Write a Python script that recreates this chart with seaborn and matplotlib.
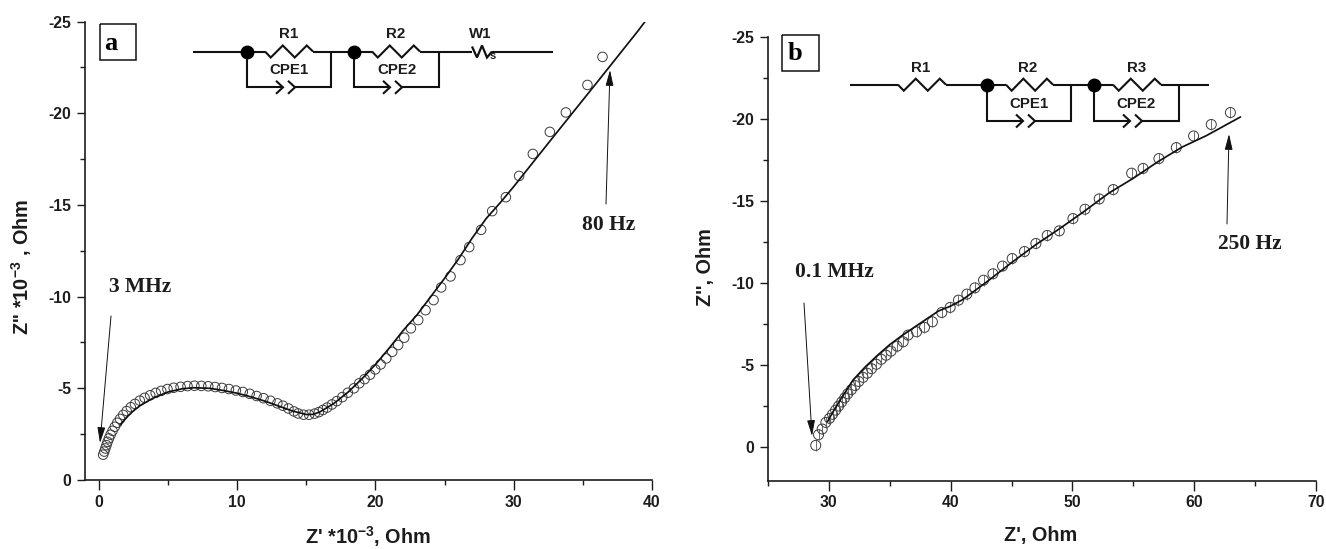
import numpy as np
import pandas as pd
import matplotlib
matplotlib.use("Agg")
import matplotlib.pyplot as plt
from matplotlib.ticker import AutoMinorLocator
import seaborn as sns

# ---------- data ----------
a_re = [0.30,0.38,0.46,0.54,0.62,0.72,0.84,0.98,1.14,1.32,1.52,1.75,2.0,2.3,2.6,2.95,3.3,3.7,4.1,4.5,4.95,5.4,5.9,6.4,6.9,7.4,7.9,8.4,8.9,9.4,9.9,10.4,10.9,11.4,11.9,12.4,12.9,13.3,13.7,14.1,14.4,14.8,15.2,15.6,15.9,16.2,16.5,16.85,17.2,17.6,18.0,18.44,18.82,19.21,19.60,19.98,20.37,20.78,21.21,21.64,22.08,22.56,23.09,23.62,24.20,24.75,25.43,26.15,26.78,27.64,28.44,29.43,30.39,31.38,32.61,33.77,35.33,36.42]
a_im = [1.38,1.55,1.72,1.90,2.08,2.27,2.47,2.68,2.90,3.12,3.33,3.55,3.76,3.97,4.15,4.33,4.48,4.62,4.75,4.86,4.96,5.03,5.08,5.12,5.14,5.13,5.11,5.07,5.02,4.96,4.88,4.80,4.70,4.58,4.46,4.32,4.18,4.05,3.90,3.74,3.63,3.56,3.56,3.62,3.70,3.82,3.95,4.12,4.30,4.52,4.76,5.00,5.27,5.50,5.74,6.03,6.30,6.63,6.99,7.36,7.76,8.27,8.72,9.26,9.81,10.50,11.10,11.99,12.70,13.64,14.66,15.42,16.58,17.78,18.98,20.04,21.54,23.07]
a_fit_re = [1.52,2,2.5,3,4,5,6,6.8,8,9,10,11,12,13,14,15,15.5,16,17,18,19,20,21,22,23,24,25,26,27,28,29,30,33,36,39,39.5]
a_fit_im = [3.0,3.42,3.78,4.07,4.5,4.8,4.97,5.03,5.0,4.88,4.73,4.53,4.3,4.03,3.76,3.57,3.58,3.72,4.18,4.78,5.5,6.3,7.2,8.15,9.0,10.0,11.0,12.05,13.2,14.25,15.1,16.0,18.84,21.66,24.5,25.0]

b_re = [28.92,29.15,29.45,29.75,30.05,30.3,30.55,30.8,31.05,31.3,31.55,31.85,32.15,32.45,32.8,33.15,33.5,33.9,34.3,34.7,35.1,35.6,36.1,36.5,37.2,37.85,38.5,39.27,39.96,40.64,41.33,41.99,42.7,43.47,44.26,45.05,46.06,47.0,47.93,48.92,50.04,51.03,52.2,53.35,54.86,55.8,57.1,58.53,59.95,61.4,62.97]
b_im = [0.10,0.75,1.1,1.5,1.75,2.0,2.25,2.5,2.75,3.0,3.25,3.5,3.75,4.0,4.25,4.5,4.78,5.05,5.35,5.6,5.85,6.15,6.42,6.83,7.03,7.3,7.64,8.21,8.52,8.96,9.33,9.71,10.18,10.57,11.04,11.5,11.93,12.42,12.91,13.19,13.94,14.51,15.14,15.71,16.71,17.0,17.6,18.27,18.98,19.68,20.41]
b_fit_re = [29.88,30.3,31,32,33,34,35,36,37,38,39,40,41,43,45,47,49,51,53,55,57,59,61,63.8]
b_fit_im = [1.54,2.1,2.95,4.1,4.9,5.6,6.25,6.8,7.3,7.8,8.3,8.6,9.0,10.1,11.25,12.35,13.35,14.4,15.5,16.4,17.4,18.3,19.0,20.14]

x_ticks_a = [0,10,20,30,40]
y_ticks_a = [0,-5,-10,-15,-20,-25]
x_ticks_b = [30,40,50,60,70]
y_ticks_b = [0,-5,-10,-15,-20,-25]

# ---------- style ----------
W, H = 1326, 549
sns.set_theme(style="ticks")
plt.rcParams["font.family"] = ["Liberation Sans", "DejaVu Sans"]
plt.rcParams["mathtext.fontset"] = "custom"
plt.rcParams["mathtext.bf"] = "Liberation Sans:bold"
plt.rcParams["mathtext.rm"] = "Liberation Sans:bold"
plt.rcParams["mathtext.default"] = "bf"
plt.rcParams["axes.unicode_minus"] = False
INK = "#1c1c1c"

fig = plt.figure(figsize=(W/100, H/100), dpi=100, facecolor="white")

def make_axes(l, r, t, b):
    return fig.add_axes([l/W, 1-b/H, (r-l)/W, (b-t)/H], facecolor="none")

def style(ax, xt, yt):
    for s in ("top", "right"):
        ax.spines[s].set_visible(False)
    for s in ("left", "bottom"):
        ax.spines[s].set_linewidth(1.2)
        ax.spines[s].set_color(INK)
    ax.set_xticks(xt); ax.set_yticks(yt)
    ax.xaxis.set_minor_locator(AutoMinorLocator(2))
    ax.yaxis.set_minor_locator(AutoMinorLocator(2))
    ax.tick_params(axis="x", which="major", length=7, width=1.0, color=INK, pad=3.5, labelsize=11.3, labelcolor=INK)
    ax.tick_params(axis="y", which="major", length=5.8, width=1.0, color=INK, pad=4, labelsize=11.3, labelcolor=INK)
    ax.tick_params(which="minor", length=3.3, width=1.0, color=INK)
    for l in ax.get_xticklabels() + ax.get_yticklabels():
        l.set_fontweight("bold")
    ax.set_xlabel(""); ax.set_ylabel("")

# ---------- panel a ----------
ax_a = make_axes(85, 652, 21.5, 480)
df_a = pd.DataFrame({"re": a_re, "im": np.negative(a_im)})
fit_a = pd.DataFrame({"re": a_fit_re, "im": np.negative(a_fit_im)})
sns.scatterplot(data=df_a, x="re", y="im", ax=ax_a, marker="o", s=47,
                facecolors="none", edgecolors="#3a3a3a", linewidth=0.7, clip_on=False)
sns.lineplot(data=fit_a, x="re", y="im", ax=ax_a, color="#111111", linewidth=1.25, sort=False, errorbar=None)
ax_a.set_xlim((85-99)/13.83, 40)
ax_a.set_ylim(0, -25)
style(ax_a, x_ticks_a, y_ticks_a)

# ---------- panel b ----------
ax_b = make_axes(768, 1316, 37.3, 480.5)
df_b = pd.DataFrame({"re": b_re, "im": np.negative(b_im)})
fit_b = pd.DataFrame({"re": b_fit_re, "im": np.negative(b_fit_im)})
ax_b.errorbar(df_b["re"], df_b["im"], yerr=0.33, fmt="none", ecolor="#555555", elinewidth=0.6)
sns.scatterplot(data=df_b, x="re", y="im", ax=ax_b, marker="o", s=52,
                facecolors="none", edgecolors="#3a3a3a", linewidth=0.7, clip_on=False)
sns.lineplot(data=fit_b, x="re", y="im", ax=ax_b, color="#111111", linewidth=1.25, sort=False, errorbar=None)
ax_b.set_xlim(25, 70)
ax_b.set_ylim((480.5-447)/16.4, -25)
style(ax_b, x_ticks_b, y_ticks_b)

# ---------- overlay in pixel coordinates ----------
ov = fig.add_axes([0, 0, 1, 1], facecolor="none")
ov.set_xlim(0, W); ov.set_ylim(H, 0); ov.axis("off")

def wire(xs, ys, lw=1.5):
    ov.plot(xs, ys, color="#111111", lw=lw, solid_capstyle="butt", solid_joinstyle="miter")

def label(x, y, s, size=10.8):
    ov.text(x, y, s, ha="center", va="center", fontsize=size, fontweight="bold", color=INK)

def resistor(x0, x1, y):
    d = x1 - x0
    xs = [x0, x0+d*0.12, x0+d*0.37, x0+d*0.62, x0+d*0.87, x1]
    ys = [y, y+6, y-6, y+6, y-6, y]
    wire(xs, ys)

def cpe(x_node, x_right, y_top, y_bot):
    c = x_node + 36
    wire([x_node, x_node, c], [y_top, y_bot, y_bot])
    wire([c-7, c, c-7], [y_bot-6.5, y_bot, y_bot+6.5])
    wire([c+5, c+12, c+5], [y_bot-6.5, y_bot, y_bot+6.5])
    wire([c+12, x_right, x_right], [y_bot, y_bot, y_top])

def node(x, y):
    ov.plot([x], [y], "o", color="black", ms=9)

# circuit a
ya = 51.5
wire([193, 265], [ya, ya]); wire([313, 372], [ya, ya]); wire([420, 472], [ya, ya]); wire([492, 553], [ya, ya])
resistor(265, 313, ya); resistor(372, 420, ya)
wire([472, 477, 482, 487, 492], [ya-5, ya+6, ya-6, ya+6, ya], lw=1.6)
cpe(247, 331, ya, 87.3); cpe(354, 439, ya, 87.3)
node(247, ya); node(354, ya)
label(289, 34, "R1"); label(396, 34, "R2"); label(480, 34, "W1")
label(289, 70, "CPE1"); label(397, 70, "CPE2")
ov.text(493, 56, "s", fontsize=8, fontweight="bold", ha="center", va="center", color=INK)

# circuit b
yb = 84.7
wire([850, 898], [yb, yb]); wire([946, 1006], [yb, yb]); wire([1053, 1113], [yb, yb]); wire([1161, 1209], [yb, yb])
resistor(898, 946, yb); resistor(1006, 1053, yb); resistor(1113, 1161, yb)
cpe(987, 1071, yb, 121); cpe(1094, 1179, yb, 121)
node(987, yb); node(1094, yb)
label(921, 68, "R1"); label(1028, 68, "R2"); label(1137, 68, "R3")
label(1029, 104, "CPE1"); label(1136, 104, "CPE2")

# panel letters
for (x0, x1, y0, y1, s, tx, ty) in [(100, 136, 24, 60, "a", 111, 44), (782, 819, 35, 71, "b", 795, 53)]:
    wire([x0, x1, x1, x0, x0], [y0, y0, y1, y1, y0], lw=1.1)
    ov.text(tx, ty, s, family="Liberation Serif", fontweight="bold", fontsize=19, ha="center", va="center", color="black")

# frequency notes
notes = [("3 MHz", 140, 287, (111, 316), (100, 443)),
         ("80 Hz", 609, 225, (606, 204), (610, 70)),
         ("0.1 MHz", 834, 272, (804, 303), (812, 436)),
         ("250 Hz", 1250, 244, (1227, 224), (1229, 134))]
for s, tx, ty, start, end in notes:
    ov.text(tx, ty, s, family="Liberation Serif", fontweight="bold", fontsize=15.5, ha="center", va="center", color=INK)
    ov.annotate("", xy=end, xytext=start,
                arrowprops=dict(arrowstyle="-|>,head_length=0.8,head_width=0.2", lw=0.7, color="#111111", shrinkA=0, shrinkB=0))

# axis titles
ov.text(22, 267, "Z'' *10$^{-3}$ , Ohm", rotation=90, ha="center", va="center", fontsize=14.3, fontweight="bold", color=INK)
ov.text(368, 537, "Z' *10$^{-3}$, Ohm", ha="center", va="center", fontsize=14.3, fontweight="bold", color=INK)
ov.text(706, 267, "Z'', Ohm", rotation=90, ha="center", va="center", fontsize=14.3, fontweight="bold", color=INK)
ov.text(1041, 535, "Z', Ohm", ha="center", va="center", fontsize=14.3, fontweight="bold", color=INK)
ov.set_xlim(0, W); ov.set_ylim(H, 0)

fig.savefig("out.png", dpi=100, facecolor="white")
